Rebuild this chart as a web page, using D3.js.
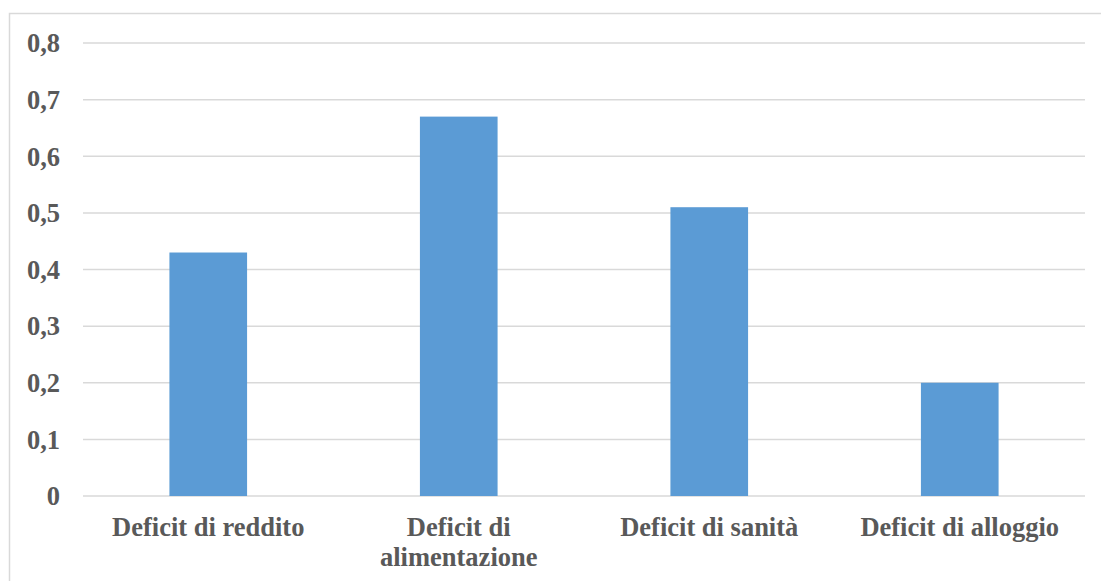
<!DOCTYPE html>
<html>
<head>
<meta charset="utf-8">
<script src="https://cdn.jsdelivr.net/npm/d3@7"></script>
<style>
  html, body { margin: 0; padding: 0; background: #fff; }
  svg { display: block; }
</style>
</head>
<body>
<script>
const categories = ["Deficit di reddito", "Deficit di alimentazione", "Deficit di sanità", "Deficit di alloggio"];
const labelLines = [["Deficit di reddito"], ["Deficit di", "alimentazione"], ["Deficit di sanità"], ["Deficit di alloggio"]];
const values = [0.43, 0.67, 0.51, 0.2];
const yTicks = [0, 0.1, 0.2, 0.3, 0.4, 0.5, 0.6, 0.7, 0.8];
const yTickLabels = ["0", "0,1", "0,2", "0,3", "0,4", "0,5", "0,6", "0,7", "0,8"];

(function () {
const W = 1101, H = 581;
const svg = d3.select("body").append("svg").attr("width", W).attr("height", H);

// outer chart border
svg.append("rect").attr("x", 9.5).attr("y", 13.5).attr("width", W).attr("height", H)
  .attr("fill", "#fff").attr("stroke", "#d9d9d9").attr("stroke-width", 1.5);

const mLeft = 83, mRight = 1085, mTop = 43, mBottom = 496;
const x = d3.scaleBand().domain(categories).range([mLeft, mRight]).paddingInner(0.69).paddingOuter(0.345);
const y = d3.scaleLinear().domain([0, 0.8]).range([mBottom, mTop]);

const font = "Liberation Serif";
const textColor = "#595959";
const fs = 26.5;

// gridlines
svg.append("g").selectAll("line").data(yTicks).join("line")
  .attr("x1", mLeft).attr("x2", mRight)
  .attr("y1", d => y(d)).attr("y2", d => y(d))
  .attr("stroke", "#d9d9d9").attr("stroke-width", 1.5);

// y axis labels
const yAxis = d3.axisLeft(y).tickValues(yTicks).tickSize(0).tickPadding(0)
  .tickFormat((d, i) => yTickLabels[i]);
const gy = svg.append("g").attr("transform", `translate(60,0)`).call(yAxis);
gy.select(".domain").remove();
gy.attr("font-family", null).attr("font-size", null);
gy.selectAll("text").attr("font-family", font).attr("font-weight", "bold")
  .attr("font-size", fs).attr("fill", textColor).attr("dy", "0.33em");

// bars
svg.append("g").selectAll("rect").data(values).join("rect")
  .attr("x", (d, i) => x(categories[i]))
  .attr("width", x.bandwidth())
  .attr("y", d => y(d))
  .attr("height", d => y(0) - y(d))
  .attr("fill", "#5b9bd5");

// x labels
const xl = svg.append("g").selectAll("text").data(categories).join("text")
  .attr("x", d => x(d) + x.bandwidth() / 2)
  .attr("y", 536)
  .attr("text-anchor", "middle")
  .attr("font-family", font).attr("font-weight", "bold")
  .attr("font-size", fs).attr("fill", textColor);
xl.each(function(d, i) {
  const t = d3.select(this);
  labelLines[i].forEach((ln, j) => {
    t.append("tspan").attr("x", x(d) + x.bandwidth() / 2).attr("dy", j === 0 ? 0 : 30).text(ln);
  });
});
})();
</script>
</body>
</html>
